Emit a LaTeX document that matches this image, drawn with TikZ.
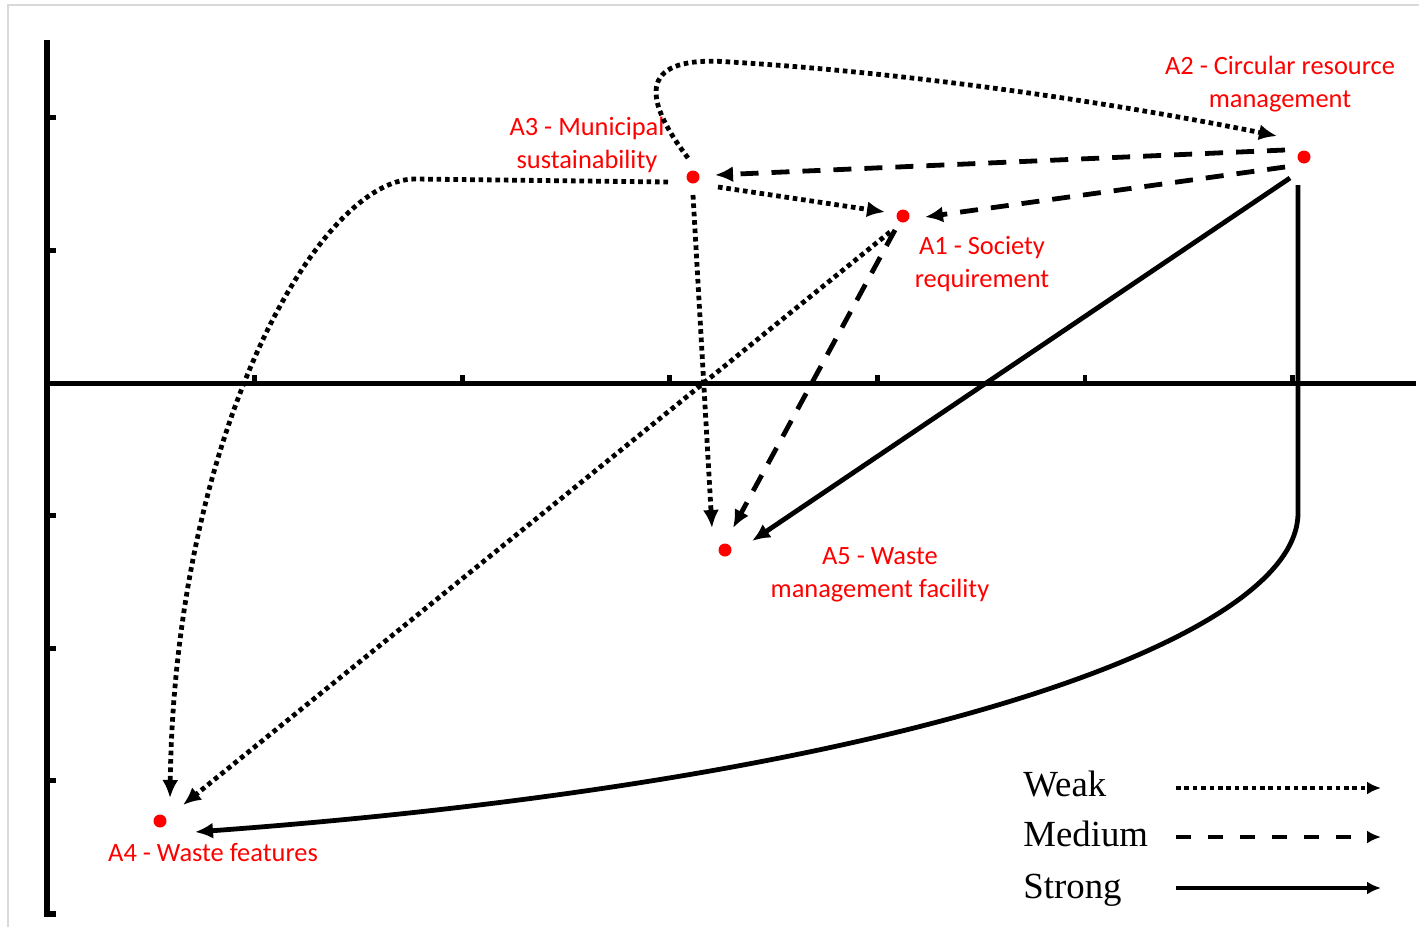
\documentclass[tikz,border=0pt]{standalone}
\usepackage{fontspec}
\setmainfont{Liberation Serif}
\newfontfamily\lblfont{Carlito}
\usepackage{xcolor}
\usepackage{tikz}
\usetikzlibrary{arrows.meta, calc, positioning}

\tikzset{
    dot/.style={circle, fill=red, inner sep=0pt, minimum size=6.5pt},
    lbl/.style={text=red, align=center, inner sep=0pt,
        font=\lblfont\fontsize{13.2}{16.5}\selectfont},
    weak/.style={line width=2.4pt, dash pattern=on 2.3pt off 1.9pt,
        -{Latex[length=9pt,width=8pt]}},
    medium/.style={line width=2.4pt, dash pattern=on 9pt off 6.5pt,
        -{Latex[length=9pt,width=8pt]}},
    strong/.style={line width=2.4pt, -{Latex[length=9pt,width=8pt]}},
    legtext/.style={anchor=base west, inner sep=0pt,
        font=\fontsize{18.4}{22}\selectfont}
}

\begin{document}
\begin{tikzpicture}[x=0.5pt, y=-0.5pt]
    \useasboundingbox (0,0) rectangle (1419,927);
    % Cadre
    \draw[black!15, line width=1pt] (8,927) -- (8,5) -- (1419,5);

    % Axes
    \draw[line width=2.6pt] (47,40) -- (47,914) -- (56,914);
    \draw[line width=2.5pt] (45,383) -- (1416,383);
    \foreach \k in {1,...,6}
        \draw[line width=2.4pt] ({47+207.6*\k},383) -- ++(0,-8);
    \foreach \k in {-2,-1,1,2,3}
        \draw[line width=2.4pt] (47,{383+132.6*\k}) -- ++(9,0);

    % Points
    \node[dot] (a1) at (903,216) {};
    \node[dot] (a2) at (1304,157) {};
    \node[dot] (a3) at (693,177) {};
    \node[dot] (a4) at (160,821) {};
    \node[dot] (a5) at (725,550) {};

    % Etiquettes
    \node[lbl] (l1) at (982,264) {A1 - Society\\requirement};
    \node[lbl] (l2) at (1280,84) {A2 - Circular resource\\management};
    \node[lbl] (l3) at (587,145) {A3 - Municipal\\sustainability};
    \node[lbl] (l4) at (213,853) {A4 - Waste features};
    \node[lbl] (l5) at (880,575) {A5 - Waste\\management facility};

    % Liens faibles
    \draw[weak] ($(a3)+(-5,-19)$) .. controls (640,95) and (640,55) .. (730,62)
        .. controls (900,72) and (1100,100) .. ($(a2)+(-27,-21)$);
    \draw[weak] ($(a3)+(25,10)$) -- ($(a1)+(-18,-4)$);
    \draw[weak] ($(a3)+(0,18)$) -- ($(a5)+(-13,-22)$);
    \draw[weak] ($(a1)+(-13,16)$) -- ($(a4)+(23,-16)$);
    \draw[weak] ($(a3)+(-25,5)$) -- (415,179)
        .. controls (320,179) and (175,430) .. ($(a4)+(10,-23)$);

    % Liens moyens
    \draw[medium] ($(a2)+(-19,-7)$) -- ($(a3)+(22,-2)$);
    \draw[medium] ($(a2)+(-19,10)$) -- ($(a1)+(22,1)$);
    \draw[medium] ($(a1)+(-8,14)$) -- ($(a5)+(8,-22)$);

    % Liens forts
    \draw[strong] ($(a2)+(-14,21)$) -- ($(a5)+(27,-9)$);
    \draw[strong] ($(a2)+(-6,28)$) -- (1298,513)
        .. controls (1298,640) and (900,780) .. ($(a4)+(35,11)$);

    % Legende
    \node[legtext] (weak) at (1023,796) {Weak};
    \node[legtext] (medium) at (1023,846) {Medium};
    \node[legtext] (strong) at (1023,898) {Strong};
    \coordinate (w1) at (1176,788);
    \coordinate (w2) at (1381,788);
    \coordinate (m1) at (1176,837);
    \coordinate (m2) at (1381,837);
    \coordinate (s1) at (1176,888);
    \coordinate (s2) at (1381,888);
    \draw[weak, -{Latex[length=7pt,width=6.5pt]}] (w1) -- (w2);
    \draw[medium, -{Latex[length=7pt,width=6.5pt]}, dash pattern=on 7.5pt off 8.5pt] (m1) -- (m2);
    \draw[strong, -{Latex[length=7pt,width=6.5pt]}] (s1) -- (s2);
\end{tikzpicture}
\end{document}
